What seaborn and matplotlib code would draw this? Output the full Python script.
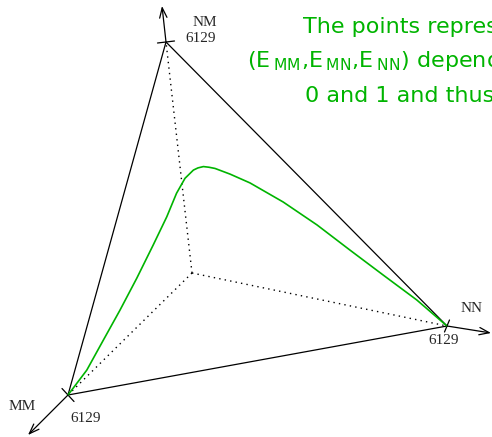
import numpy as np
import pandas as pd
import seaborn as sns
import matplotlib.pyplot as plt

# Daten: Achsen und Kurve (Anteile E_MM, E_MN, E_NN, Summe = 1)
axis_labels = ["MM", "NM", "NN"]
axis_max = [6129, 6129, 6129]

e_mm = [1.000, 0.903, 0.799, 0.696, 0.588, 0.478, 0.385, 0.311, 0.259, 0.222, 0.207,
        0.192, 0.181, 0.170, 0.149, 0.124, 0.092, 0.067, 0.049, 0.030, 0.010, 0.000]
e_mn = [0.000, 0.064, 0.145, 0.225, 0.311, 0.401, 0.478, 0.543, 0.583, 0.603, 0.607,
        0.608, 0.603, 0.596, 0.571, 0.534, 0.459, 0.372, 0.279, 0.187, 0.094, 0.000]
e_nn = [0.000, 0.033, 0.056, 0.079, 0.101, 0.121, 0.137, 0.146, 0.158, 0.175, 0.186,
        0.200, 0.216, 0.234, 0.280, 0.342, 0.449, 0.561, 0.672, 0.783, 0.896, 1.000]

info_lines = ["The points represent the triples",
              r"(E$\,_{\mathrm{MM}}$,E$\,_{\mathrm{MN}}$,E$\,_{\mathrm{NN}}$) depending on",
              "0 and 1 and thus"]

# Layout der Zeichnung (Pixel)
origem = np.array([192, 273])
vert = {"MM": (68, 395), "NM": (166, 42), "NN": (447, 326)}
ponta = {"MM": (28, 435), "NM": (162, 6), "NN": (491, 333)}
tick = {"MM": (6, 6.5), "NM": (8.5, -1), "NN": (2.5, -6)}
pos_label = {"MM": (22, 407), "NM": (205, 22), "NN": (472, 308)}
pos_max = {"MM": (86, 419), "NM": (201, 39), "NN": (444, 341)}
verde = "#00b400"

sns.set_style("white")
plt.rcParams['font.family'] = ['DejaVu Sans']

fig = plt.figure(figsize=(4.92, 4.37), dpi=100)
ax = fig.add_axes([0, 0, 1, 1])

# eixos pontilhados a partir da origem
for nome in axis_labels:
    v = vert[nome]
    ax.plot([origem[0], v[0]], [origem[1], v[1]], color='black', lw=1.0,
            ls=(0, (1, 3)))

# triangulo
tri = axis_labels + [axis_labels[0]]
ax.plot([vert[n][0] for n in tri], [vert[n][1] for n in tri], color='black', lw=0.9)

# setas, marcas e rotulos
for nome, vmax in zip(axis_labels, axis_max):
    v = vert[nome]
    ax.annotate("", xy=ponta[nome], xytext=v,
                arrowprops=dict(arrowstyle='->,head_length=0.6,head_width=0.22',
                                color='black', lw=0.9, mutation_scale=12,
                                shrinkA=0, shrinkB=0))
    t = tick[nome]
    ax.plot([v[0] - t[0], v[0] + t[0]], [v[1] - t[1], v[1] + t[1]], color='black', lw=0.9)
    ax.text(*pos_label[nome], nome, family='Liberation Serif', fontsize=11,
            ha='center', va='center')
    ax.text(*pos_max[nome], str(vmax), family='Liberation Serif', fontsize=11,
            ha='center', va='center')

# curva verde (coordenadas baricentricas -> desenho)
df = pd.DataFrame({'E_MM': e_mm, 'E_MN': e_mn, 'E_NN': e_nn})
df['x'] = df['E_MM'] * vert['MM'][0] + df['E_MN'] * vert['NM'][0] + df['E_NN'] * vert['NN'][0]
df['y'] = df['E_MM'] * vert['MM'][1] + df['E_MN'] * vert['NM'][1] + df['E_NN'] * vert['NN'][1]
sns.lineplot(data=df, x='x', y='y', sort=False, estimator=None, color=verde, lw=1.2, ax=ax)

ax.set_xlim(0, 492)
ax.set_ylim(437, 0)
ax.axis('off')

# texto explicativo (cortado na borda direita, como no original)
for (x0, y0), linha in zip([(303, 33), (247, 67), (305, 102)], info_lines):
    ax.text(x0, y0, linha, color=verde, fontsize=16, ha='left', va='baseline')

fig.savefig('out.png', dpi=100)
